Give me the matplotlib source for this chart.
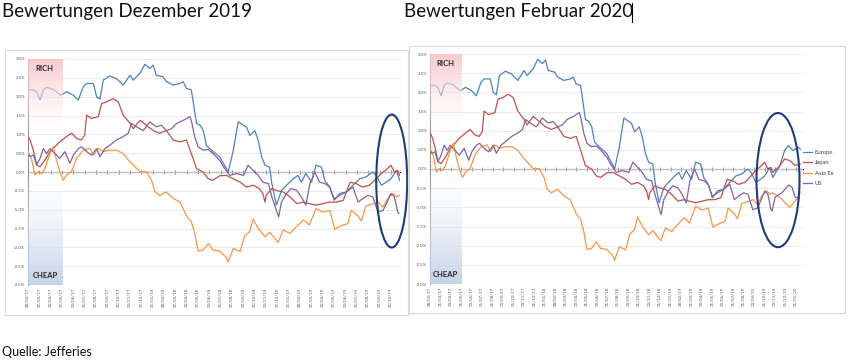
import numpy as np
import matplotlib
matplotlib.use('Agg')
import matplotlib.pyplot as plt
from matplotlib.patches import Ellipse, Rectangle

plt.rcParams['font.family'] = ['Lato', 'DejaVu Sans']

# Month-end labels on the category axis
month_labels = [
    '28/02/17', '31/03/17', '30/04/17', '31/05/17', '30/06/17', '31/07/17',
    '31/08/17', '30/09/17', '31/10/17', '30/11/17', '31/12/17', '31/01/18',
    '28/02/18', '31/03/18', '30/04/18', '31/05/18', '30/06/18', '31/07/18',
    '31/08/18', '30/09/18', '31/10/18', '30/11/18', '31/12/18', '31/01/19',
    '28/02/19', '31/03/19', '30/04/19', '31/05/19', '30/06/19', '31/07/19',
    '31/08/19', '30/09/19', '31/10/19', '30/11/19', '31/12/19', '31/01/20',
]

# Series: x = months after 28/02/17, y = valuation in %
europe_m = [0, 0.47, 0.76, 1.06, 1.35, 1.64, 2.23, 2.9, 3.4, 3.99, 4.43, 4.87, 5.17, 5.76,
            6.05, 6.34, 6.64, 7.2, 7.8, 8.4, 9.0, 9.28, 9.87, 10.3, 10.75, 11.04, 11.3,
            11.9, 12.2, 12.8, 13.4, 13.68, 13.97, 14.4, 14.86, 15.15, 15.45, 15.74, 16.3,
            16.9, 17.5, 17.65, 18.1, 18.53, 19.27, 19.56, 20.0, 20.3, 20.6, 20.9, 21.3,
            21.5, 21.9, 22.35, 22.8, 23.4, 23.8, 24.1, 24.5, 25.0, 25.4, 25.87, 26.16,
            26.6, 27.0, 27.5, 28.07, 28.66, 29.25, 29.8, 30.4, 30.7, 31.16, 31.6, 32.0,
            32.48, 32.77, 33.46, 33.9, 34.25, 34.7, 35.2, 35.4]
europe_v = [2.18, 2.18, 2.13, 1.91, 2.18, 2.25, 2.19, 2.04, 2.13, 2.04, 1.91, 2.26, 2.35, 2.35,
            2.0, 1.93, 2.44, 2.55, 2.48, 2.31, 2.57, 2.44, 2.62, 2.86, 2.75, 2.84, 2.57,
            2.53, 2.4, 2.31, 2.35, 2.4, 2.22, 2.18, 1.29, 1.25, 1.11, 0.7, 0.55,
            0.4, 0.09, 0.0, 0.57, 1.33, 1.19, 0.97, 1.1, 0.84, 0.4, 0.18, 0.13,
            -0.31, -0.88, -0.49, -0.35, -0.18, -0.09, -0.27, -0.04, -0.27, 0.18, 0.13, -0.22,
            -0.4, -0.71, -0.62, -0.53, -0.35, -0.18, -0.13, 0.0, -0.09, -0.35, -0.27, -0.18,
            0.04, -0.22, 0.09, 0.48, 0.61, 0.48, 0.57, 0.52]

japan_m = [0, 0.18, 0.47, 0.76, 1.06, 1.5, 1.94, 2.38, 2.8, 3.4, 3.84, 4.28, 4.7, 5.0, 5.17,
           5.6, 6.2, 6.49, 6.93, 7.5, 7.96, 8.4, 9.0, 9.28, 9.87, 10.45, 11.04, 11.6, 12.2,
           12.8, 13.4, 13.97, 14.4, 14.86, 15.45, 15.9, 16.3, 16.9, 17.5, 18.1, 18.7, 19.27,
           19.86, 20.4, 20.7, 20.9, 21.0, 21.5, 21.9, 22.5, 23.1, 23.7, 24.25, 24.8, 25.4,
           26.0, 26.6, 27.2, 27.8, 28.4, 28.95, 29.5, 30.1, 30.7, 31.3, 31.7, 32.0, 32.3,
           32.6, 32.77, 33.46, 33.9, 34.4, 34.9, 35.4]
japan_v = [0.94, 0.85, 0.58, 0.19, 0.14, 0.32, 0.54, 0.67, 0.8, 0.94, 1.03, 0.89, 0.85, 0.98, 1.51,
           1.42, 1.47, 1.82, 1.86, 1.95, 1.86, 1.51, 1.29, 1.15, 1.37, 1.24, 1.1, 1.03, 1.1,
           0.85, 0.8, 0.85, 0.49, 0.09, 0.0, -0.18, -0.22, -0.1, -0.09, -0.18, -0.27, -0.4,
           -0.35, -0.44, -0.57, -0.8, -0.62, -0.44, -0.49, -0.53, -0.66, -0.84, -0.8, -0.84, -0.88,
           -0.84, -0.8, -0.8, -0.75, -0.27, -0.31, -0.4, -0.35, -0.18, 0.0, 0.09, 0.18, 0.0,
           0.04, -0.09, 0.09, 0.26, 0.22, 0.09, 0.13]

asia_m = [0, 0.3, 0.6, 0.9, 1.2, 1.5, 1.94, 2.23, 2.5, 2.8, 3.1, 3.4, 3.84, 4.28, 4.87, 5.47,
          5.76, 6.2, 6.64, 7.2, 7.8, 8.4, 8.84, 9.28, 9.87, 10.45, 10.9, 11.2, 11.6, 12.2,
          12.8, 13.4, 14.0, 14.4, 14.7, 15.0, 15.45, 15.9, 16.3, 16.9, 17.5, 17.65, 18.1,
          18.7, 19.1, 19.56, 19.85, 20.3, 20.9, 21.3, 22.06, 22.5, 23.1, 23.67, 24.3, 24.8,
          25.4, 26.0, 26.6, 27.05, 27.6, 28.2, 28.5, 29.1, 29.4, 29.8, 30.4, 30.9, 31.3,
          31.7, 32.2, 32.5, 32.77, 33.46, 33.9, 34.4, 34.7, 35.2, 35.4]
asia_v = [0.54, 0.36, -0.08, 0.01, -0.04, 0.1, 0.49, 0.67, 0.32, 0.01, -0.22, -0.08, 0.01, 0.36,
          0.58, 0.63, 0.45, 0.63, 0.54, 0.58, 0.58, 0.49, 0.32, 0.19, 0.01, 0.01, -0.22, -0.53,
          -0.62, -0.53, -0.7, -0.8, -1.18, -1.32, -1.63, -2.1, -2.07, -1.9, -2.07, -2.1, -2.27,
          -2.38, -2.03, -2.11, -1.7, -1.58, -1.25, -1.5, -1.72, -1.6, -1.87, -1.54, -1.63,
          -1.45, -1.27, -1.41, -0.97, -1.07, -1.02, -1.52, -1.43, -1.37, -1.02, -1.17, -1.3,
          -0.9, -0.85, -0.8, -0.93, -0.71, -0.57, -0.66, -0.62, -0.74, -0.87, -1.0, -0.9,
          -0.74, -0.6]

us_m = [0, 0.18, 0.47, 0.76, 1.06, 1.35, 1.64, 1.94, 2.38, 2.8, 3.26, 3.7, 4.0, 4.43, 4.73,
        5.17, 5.6, 6.05, 6.34, 6.78, 7.2, 7.8, 8.4, 8.84, 9.13, 9.57, 10.16, 10.75, 11.3,
        11.77, 12.2, 12.66, 13.1, 13.68, 14.27, 14.4, 14.7, 15.0, 15.45, 15.9, 16.33, 16.9,
        17.35, 17.8, 18.4, 19.0, 19.4, 19.86, 20.3, 20.7, 21.2, 21.5, 21.8, 22.1, 22.35,
        22.8, 23.2, 23.7, 24.1, 24.5, 24.85, 25.3, 25.7, 26.2, 26.6, 27.0, 27.5, 28.07,
        28.66, 29.1, 29.5, 29.98, 30.4, 30.86, 31.3, 31.6, 32.0, 32.3, 32.6, 32.7, 33.0,
        33.6, 34.3, 34.6, 34.9, 35.2]
us_v = [0.45, 0.41, 0.45, 0.19, 0.36, 0.62, 0.49, 0.62, 0.49, 0.36, 0.54, 0.23, 0.45, 0.62, 0.67,
        0.54, 0.45, 0.62, 0.41, 0.62, 0.71, 0.85, 0.94, 1.03, 1.29, 1.2, 1.1, 1.33, 1.2,
        1.24, 1.1, 1.15, 1.29, 1.37, 1.47, 1.37, 0.94, 0.67, 0.58, 0.6, 0.49, 0.31,
        0.09, -0.09, -0.04, -0.09, 0.18, 0.04, -0.09, -0.27, -0.31, -0.66, -0.93, -1.19, -0.8,
        -0.57, -0.44, -0.49, -0.66, -0.88, -0.31, 0.0, -0.27, -0.31, -0.4, -0.75, -0.57, -0.53,
        -0.4, -0.8, -0.71, -0.62, -0.66, -1.06, -1.02, -0.84, -0.57, -0.66, -1.06, -1.1, -0.73,
        -0.63, -0.42, -0.47, -0.73, -0.76]

series = [
    ('Europe', europe_m, europe_v, '#4F81BD'),
    ('Japan', japan_m, japan_v, '#C0504D'),
    ('Asia Ex', asia_m, asia_v, '#F79646'),
    ('US', us_m, us_v, '#8064A2'),
]

LEFT_END = 32.77   # data shown in the December chart


def rich_cheap_image(n=300):
    # vertical gradient overlay: pink on top (RICH), blue at the bottom (CHEAP)
    yy = np.linspace(3, -3, n)
    img = np.zeros((n, 1, 4))
    pink = np.array([248, 196, 200]) / 255
    blue = np.array([190, 206, 230]) / 255
    for i, y in enumerate(yy):
        if y > 0:
            t = np.clip((y - 0.9) / 2.1, 0, 1)
            img[i, 0, :3] = pink * t + (1 - t)
            img[i, 0, 3] = 0.9 * t ** 0.7
        else:
            t = np.clip((-y - 0.1) / 2.9, 0, 1)
            img[i, 0, :3] = blue * t + (1 - t)
            img[i, 0, 3] = 0.9 * t ** 0.6
    return img


def draw_panel(ax, end, xmax, n_labels, ell):
    for name, m, v, c in series:
        m = np.asarray(m)
        v = np.asarray(v)
        keep = m <= end + 1e-9
        ax.plot(m[keep], v[keep], color=c, lw=0.9, label=name, zorder=3)

    ax.set_xlim(0, xmax)
    ax.set_ylim(-3, 3)
    yt = np.arange(-3, 3.01, 0.5)
    ax.set_yticks(yt)
    ax.set_yticklabels([f'{t:.1f}%' for t in yt])
    ax.yaxis.grid(True, color='#e6e6e6', lw=0.6)
    ax.set_axisbelow(True)
    ticks = np.arange(n_labels)
    ax.set_xticks(ticks)
    ax.set_xticklabels(month_labels[:n_labels], rotation=90, fontsize=3.2, color='#595959')
    ax.tick_params(axis='x', length=0, pad=2)
    ax.tick_params(axis='y', length=0, pad=2, labelsize=3.2, labelcolor='#595959')
    for s in ['top', 'right', 'bottom']:
        ax.spines[s].set_visible(False)
    ax.spines['left'].set_color('#8c8c8c')
    ax.spines['left'].set_linewidth(0.8)

    # horizontal axis crossing at 0.0% with month tick marks
    zero = ax.secondary_xaxis(0.5)
    zero.set_xticks(ticks)
    zero.tick_params(direction='inout', length=3, width=0.6, color='#7f7f7f',
                     labelbottom=False, labeltop=False)
    zero.spines['bottom'].set_color('#7f7f7f')
    zero.spines['bottom'].set_linewidth(0.8)

    ax.imshow(rich_cheap_image(), extent=[0, 3, -3, 3], aspect='auto',
              interpolation='bilinear', zorder=4)
    ax.text(1.45, 2.75, 'RICH', fontsize=5.5, fontweight='bold', color='#262626',
            ha='center', va='center', zorder=5)
    ax.text(1.5, -2.75, 'CHEAP', fontsize=5.5, fontweight='bold', color='#262626',
            ha='center', va='center', zorder=5)

    ax.add_patch(Ellipse(ell[:2], ell[2], ell[3], fill=False, ec='#1F3C7A', lw=1.5,
                         clip_on=False, zorder=6))


fig = plt.figure(figsize=(8.48, 3.6), dpi=100)

# light chart frames
fig.add_artist(Rectangle((5 / 848, 1 - 315 / 360), 403 / 848, 265 / 360,
                         transform=fig.transFigure, fill=False, ec='#d9d9d9', lw=0.8))
fig.add_artist(Rectangle((409 / 848, 1 - 313 / 360), 436 / 848, 267 / 360,
                         transform=fig.transFigure, fill=False, ec='#d9d9d9', lw=0.8))

ax1 = fig.add_axes([28 / 848, 1 - 285 / 360, 372 / 848, 226 / 360])
ax2 = fig.add_axes([430 / 848, 1 - 284 / 360, 373 / 848, 230 / 360])

draw_panel(ax1, LEFT_END, 32.8, 33, (32.07, -0.24, 2.73, 3.53))
draw_panel(ax2, 99, 35.66, 36, (33.27, -0.29, 4.11, 3.5))

ax2.legend(loc='upper left', bbox_to_anchor=(803 / 848, 1 - 150 / 360),
           bbox_transform=fig.transFigure, frameon=False, fontsize=4.2,
           handlelength=1.6, handletextpad=0.4, labelspacing=0.9,
           borderpad=0, borderaxespad=0, labelcolor='#404040')

fig.text(2 / 848, 1 - 12 / 360, 'Bewertungen Dezember 2019', fontsize=13.5,
         va='center', ha='left', color='#111111')
fig.text(404 / 848, 1 - 12 / 360, 'Bewertungen Februar 2020', fontsize=13.5,
         va='center', ha='left', color='#111111')
fig.add_artist(plt.Line2D([632 / 848, 632 / 848], [1 - 3 / 360, 1 - 22 / 360],
                          transform=fig.transFigure, color='black', lw=0.8))
fig.text(2 / 848, 1 - 352 / 360, 'Quelle: Jefferies', fontsize=9,
         va='center', ha='left', color='#111111')

fig.savefig('out.png', dpi=100)
